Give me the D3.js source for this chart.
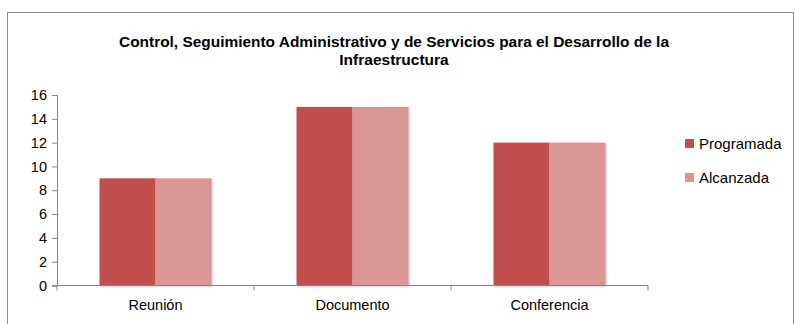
<!DOCTYPE html>
<html><head><meta charset="utf-8">
<script src="https://cdn.jsdelivr.net/npm/d3@7"></script>
<style>body{margin:0;background:#fff}svg{display:block}</style>
</head><body>
<script>
const categories = ["Reunión", "Documento", "Conferencia"];
const seriesNames = ["Programada", "Alcanzada"];
const programada = [9, 15, 12];
const alcanzada = [9, 15, 12];
const yTicks = [0, 2, 4, 6, 8, 10, 12, 14, 16];
const titleLines = ["Control, Seguimiento Administrativo y de Servicios para el Desarrollo de la", "Infraestructura"];

const W = 795, H = 324;
const colors = ["#C0504D", "#D99694"];
const svg = d3.select("body").append("svg").attr("width", W).attr("height", H);

const defs = svg.append("defs");
const f = defs.append("filter").attr("id", "sh").attr("x", "-20%").attr("y", "-20%").attr("width", "140%").attr("height", "140%");
f.append("feDropShadow").attr("dx", 1).attr("dy", 1).attr("stdDeviation", 1).attr("flood-color", "#000").attr("flood-opacity", 0.25);

// frame
svg.append("rect").attr("x", 7.5).attr("y", 12.5).attr("width", 786).attr("height", 330)
  .attr("fill", "#fff").attr("stroke", "#8c8c8c").attr("stroke-width", 1);

// title
svg.append("g").selectAll("text").data(titleLines).join("text")
  .attr("x", 394).attr("y", (d, i) => 47 + i * 18)
  .attr("text-anchor", "middle")
  .attr("font-family", "Liberation Sans, Arial, sans-serif")
  .attr("font-weight", "bold").attr("font-size", 15.5).attr("fill", "#000")
  .attr("textLength", (d, i) => i === 0 ? 550 : null)
  .attr("lengthAdjust", "spacingAndGlyphs")
  .text(d => d);

const x0 = 57, x1 = 648, yTop = 95, yBot = 285.5;
const x = d3.scaleBand().domain(categories).range([x0, x1]).paddingInner(0).paddingOuter(0);
const xs = d3.scaleBand().domain(seriesNames).range([0, x.bandwidth()]).paddingInner(0).paddingOuter(0.76);
const y = d3.scaleLinear().domain([0, 16]).range([yBot, yTop]);

const data = [programada, alcanzada];
const g = svg.append("g");
categories.forEach((c, ci) => {
  seriesNames.forEach((s, si) => {
    g.append("rect")
      .attr("x", x(c) + xs(s)).attr("width", xs.bandwidth())
      .attr("y", y(data[si][ci])).attr("height", y(0) - y(data[si][ci]))
      .attr("fill", colors[si]).attr("filter", "url(#sh)");
  });
});

// y axis
const yAxis = d3.axisLeft(y).tickValues(yTicks).tickSize(5).tickPadding(5);
const ya = svg.append("g").attr("transform", `translate(${x0},0)`).call(yAxis);
ya.select(".domain").attr("stroke", "#868686");
ya.selectAll(".tick line").attr("stroke", "#868686");
ya.selectAll(".tick text").attr("font-family", "Liberation Sans, Arial, sans-serif").attr("font-size", 14.5).attr("fill", "#000");

// x axis
const xa = svg.append("g").attr("transform", `translate(0,${yBot})`);
xa.append("line").attr("x1", x0 - 5).attr("x2", x1).attr("y1", 0).attr("y2", 0).attr("stroke", "#868686");
const bounds = categories.map(c => x(c)).concat([x1]);
xa.selectAll(".tk").data(bounds).join("line").attr("class", "tk")
  .attr("x1", d => d).attr("x2", d => d).attr("y1", 0).attr("y2", 5).attr("stroke", "#868686");
xa.selectAll(".lbl").data(categories).join("text").attr("class", "lbl")
  .attr("x", d => x(d) + x.bandwidth() / 2).attr("y", 24)
  .attr("text-anchor", "middle")
  .attr("font-family", "Liberation Sans, Arial, sans-serif").attr("font-size", 14.5).attr("fill", "#000")
  .text(d => d);

// legend
const lg = svg.append("g").selectAll("g").data(seriesNames).join("g")
  .attr("transform", (d, i) => `translate(685,${142 + i * 34})`);
lg.append("rect").attr("x", 0).attr("y", -3).attr("width", 9).attr("height", 9).attr("fill", (d, i) => colors[i]);
lg.append("text").attr("x", 14).attr("y", 6.5)
  .attr("font-family", "Liberation Sans, Arial, sans-serif").attr("font-size", 15).attr("fill", "#000")
  .text(d => d);
</script>
</body></html>
